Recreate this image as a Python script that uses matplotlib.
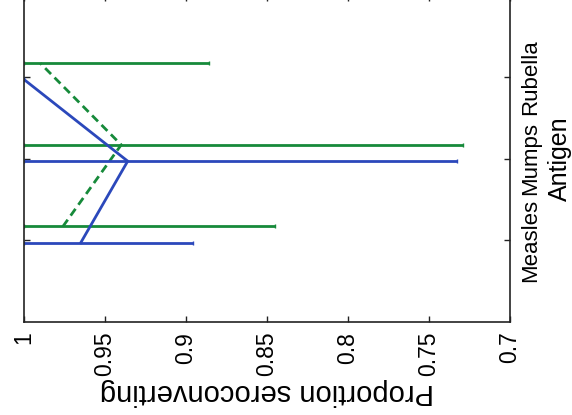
import matplotlib
matplotlib.use("Agg")
import matplotlib.pyplot as plt
import numpy as np

plt.rcParams['font.family'] = ['Liberation Sans', 'DejaVu Sans']

# Antigens and seroconversion estimates for the two groups
antigens = ["Measles", "Mumps", "Rubella"]

blue_prop = [0.965, 0.936, 1.000]
blue_lower = [0.8955, 0.733, 1.000]
blue_upper = [1.000, 1.000, 1.000]

green_prop = [0.976, 0.940, 0.990]
green_lower = [0.845, 0.729, 0.886]
green_upper = [1.000, 1.000, 1.000]

prop_ticks = [1, 0.95, 0.9, 0.85, 0.8, 0.75, 0.7]
prop_tick_labels = ["1", "0.95", "0.9", "0.85", "0.8", "0.75", "0.7"]

BLUE = "#2b48bb"
GREEN = "#168a3a"

fig = plt.figure(figsize=(5.72, 4.15), dpi=100)
ax = fig.add_axes([0.042, 0.2241, 0.8496, 0.787])

pos = np.arange(1, len(antigens) + 1)
blue_pos = pos - 0.03
green_pos = pos + 0.17


def draw_group(y, p, lo, hi, color, ls):
    p = np.asarray(p)
    lo = np.asarray(lo)
    hi = np.asarray(hi)
    ax.errorbar(p, y, xerr=[p - lo, hi - p], fmt='none', ecolor=color,
                elinewidth=2.0, capsize=1.2, capthick=1.0, clip_on=True)
    ax.plot(p, y, color=color, lw=2.0, ls=ls)


draw_group(green_pos, green_prop, green_lower, green_upper, GREEN, (0, (3.0, 1.8)))
draw_group(blue_pos, blue_prop, blue_lower, blue_upper, BLUE, '-')

ax.set_xlim(1.0, 0.7)
ax.set_ylim(0, 4)

ax.set_xticks(prop_ticks)
ax.set_xticklabels(prop_tick_labels, rotation=90, fontsize=16.5)
ax.set_yticks(pos)
ax.yaxis.tick_right()
ax.set_yticklabels(antigens, rotation=90, fontsize=16, va='center')

ax.tick_params(axis='both', direction='in', length=4, width=1, top=True,
               bottom=True, left=True, right=True, color='#222222')
ax.tick_params(axis='x', pad=7)
ax.tick_params(axis='y', pad=7)

for s in ax.spines.values():
    s.set_linewidth(1.2)
    s.set_color('#222222')

ax.set_xlabel("Proportion seroconverting", rotation=180, fontsize=21, labelpad=1)
ax.yaxis.set_label_position('right')
ax.set_ylabel("Antigen", rotation=90, fontsize=18, labelpad=5)

fig.savefig("out.png", dpi=100)
